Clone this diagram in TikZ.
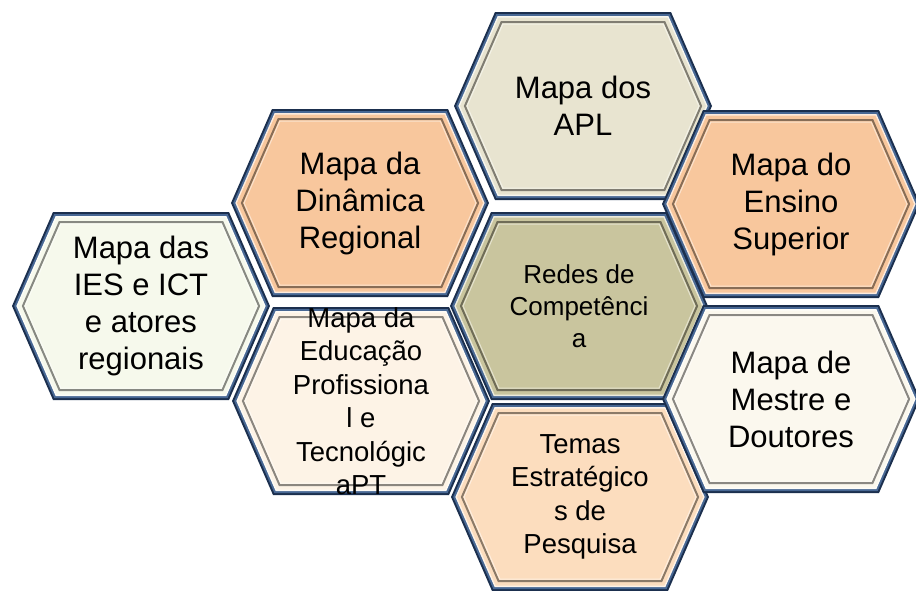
\documentclass[tikz,border=0pt]{standalone}
\usepackage{fontspec}
\setmainfont{Liberation Sans}
\usetikzlibrary{positioning,backgrounds}
\definecolor{navycolor}{RGB}{27,47,78}
\definecolor{bluecolor}{RGB}{72,104,148}
\definecolor{aplcolor}{RGB}{232,228,208}
\definecolor{orangecolor}{RGB}{248,199,157}
\definecolor{redescolor}{RGB}{201,197,158}
\definecolor{iescolor}{RGB}{246,249,236}
\definecolor{educolor}{RGB}{253,243,230}
\definecolor{mestrecolor}{RGB}{251,248,238}
\definecolor{temascolor}{RGB}{252,221,190}

% one hexagon outline, inset by #2, round node #1
\newcommand{\hexring}[3]{%
  \path[#3] ([shift={(-129+1.091*#2,0)}]#1.center) -- ([shift={(-88+0.655*#2,-94+#2)}]#1.center)
    -- ([shift={(88-0.655*#2,-94+#2)}]#1.center) -- ([shift={(129-1.091*#2,0)}]#1.center)
    -- ([shift={(88-0.655*#2,94-#2)}]#1.center) -- ([shift={(-88+0.655*#2,94-#2)}]#1.center) -- cycle;}
% full framed cell
\newcommand{\hexcell}[2]{%
  \hexring{#1}{0}{fill=navycolor}
  \hexring{#1}{2}{fill=bluecolor}
  \hexring{#1}{4}{fill=#2!35!white}
  \hexring{#1}{5.5}{fill=#2}
  \hexring{#1}{10}{draw=#2!55!black, line width=2pt}
  \hexring{#1}{12}{draw=#2!50!white, line width=1pt}}

\begin{document}
\begin{tikzpicture}[
    x=1pt, y=-1pt,
    celltext/.style={align=center, inner sep=0pt, font=\fontsize{31}{37}\selectfont},
    smalltext/.style={celltext, font=\fontsize{26}{32}\selectfont},
    midtext/.style={celltext, font=\fontsize{27.5}{33.5}\selectfont}
]
\useasboundingbox (0,0) rectangle (916,590);
\clip (0,0) rectangle (916,590);

% Left column
\node[celltext] (ies) at (141,306) {Mapa das\\IES e ICT\\e atores\\regionais};

% Second column
\node[celltext] (din) at (360,203) {Mapa da\\Dinâmica\\Regional};
\node[midtext] (edu) at (361,401) {Mapa da\\Educação\\Profissiona\\l e\\Tecnológic\\aPT};

% Center column
\node[celltext] (apl) at (583,106) {Mapa dos\\APL};
\node[smalltext] (redes) at (579,306) {Redes de\\Competênci\\a};
\node[midtext] (temas) at (580,497) {Temas\\Estratégico\\s de\\Pesquisa};

% Right column
\node[celltext] (ens) at (791,204) {Mapa do\\Ensino\\Superior};
\node[celltext] (mes) at (791,399) {Mapa de\\Mestre e\\Doutores};

% Frames
\begin{scope}[on background layer]
\hexcell{ies}{iescolor}
\hexcell{din}{orangecolor}
\hexcell{edu}{educolor}
\hexcell{apl}{aplcolor}
\hexcell{redes}{redescolor}
\hexcell{temas}{temascolor}
\hexcell{ens}{orangecolor}
\hexcell{mes}{mestrecolor}
\end{scope}

\end{tikzpicture}
\end{document}
